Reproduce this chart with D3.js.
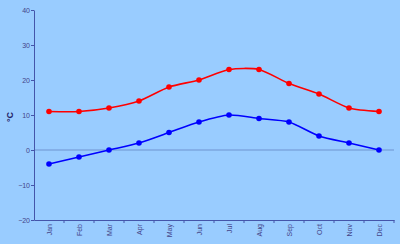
<!DOCTYPE html>
<html><head><meta charset="utf-8">
<script src="https://cdn.jsdelivr.net/npm/d3@7"></script>
<style>html,body{margin:0;padding:0;background:#99CCFF;}svg{display:block;}</style>
</head><body>
<script>
const months = ["Jan","Feb","Mar","Apr","May","Jun","Jul","Aug","Sep","Oct","Nov","Dec"];
const highs = [11, 11, 12, 14, 18, 20, 23, 23, 19, 16, 12, 11];
const lows = [-4, -2, 0, 2, 5, 8, 10, 9, 8, 4, 2, 0];
const yTicks = [-20, -10, 0, 10, 20, 30, 40];
const yLabel = "°C";

const W = 400, H = 244;
const svg = d3.select("body").append("svg").attr("width", W).attr("height", H);
svg.append("rect").attr("width", W).attr("height", H).attr("fill", "#99CCFF");

const x = d3.scaleBand().domain(months).range([34, 394]);
const y = d3.scaleLinear().domain([-20, 40]).range([220, 10]);
const axisColor = "#4455AA";
const textColor = "#444488";

// zero line
svg.append("line").attr("x1", 34).attr("x2", 394).attr("y1", y(0)).attr("y2", y(0))
  .attr("stroke", "#6F93D0").attr("stroke-width", 1);

// y axis
const ya = svg.append("g").attr("transform", "translate(34,0)")
  .call(d3.axisLeft(y).tickValues(yTicks).tickSize(3).tickSizeOuter(0));
ya.select(".domain").attr("stroke", axisColor);
ya.selectAll(".tick line").attr("stroke", axisColor);
ya.selectAll(".tick text").attr("fill", textColor).attr("font-family", "Arial, Liberation Sans, sans-serif")
  .attr("font-size", 7).attr("x", -4);

// x axis
const xa = svg.append("g").attr("transform", "translate(0,220)")
  .call(d3.axisBottom(x).tickSize(0).tickSizeOuter(0));
xa.select(".domain").attr("stroke", axisColor);
xa.selectAll(".tick text").attr("fill", textColor).attr("font-family", "Arial, Liberation Sans, sans-serif")
  .attr("font-size", 7).attr("text-anchor", "end").attr("dy", 0).attr("y", 0)
  .attr("transform", "translate(2.5,4) rotate(-90)");
// boundary ticks
xa.selectAll(".bt").data(months.slice(1).concat(["end"])).enter().append("line")
  .attr("x1", (d, i) => 34 + (i + 1) * x.bandwidth()).attr("x2", (d, i) => 34 + (i + 1) * x.bandwidth())
  .attr("y1", 0).attr("y2", 3).attr("stroke", axisColor);

// y label
svg.append("text").attr("transform", `translate(13,${y(10) + 2}) rotate(-90)`)
  .attr("text-anchor", "middle").attr("fill", "#222266").attr("font-weight", "bold")
  .attr("font-family", "Arial, Liberation Sans, sans-serif").attr("font-size", 9).text(yLabel);

const line = d3.line().x((d, i) => x(months[i]) + x.bandwidth() / 2).y(d => y(d)).curve(d3.curveCardinal.tension(0.3));

[[highs, "#FF0000"], [lows, "#0000FF"]].forEach(([data, c]) => {
  svg.append("path").datum(data).attr("d", line).attr("fill", "none").attr("stroke", c).attr("stroke-width", 1.6);
  svg.selectAll(null).data(data).enter().append("circle")
    .attr("cx", (d, i) => x(months[i]) + x.bandwidth() / 2).attr("cy", d => y(d)).attr("r", 2.8).attr("fill", c);
});
</script>
</body></html>
